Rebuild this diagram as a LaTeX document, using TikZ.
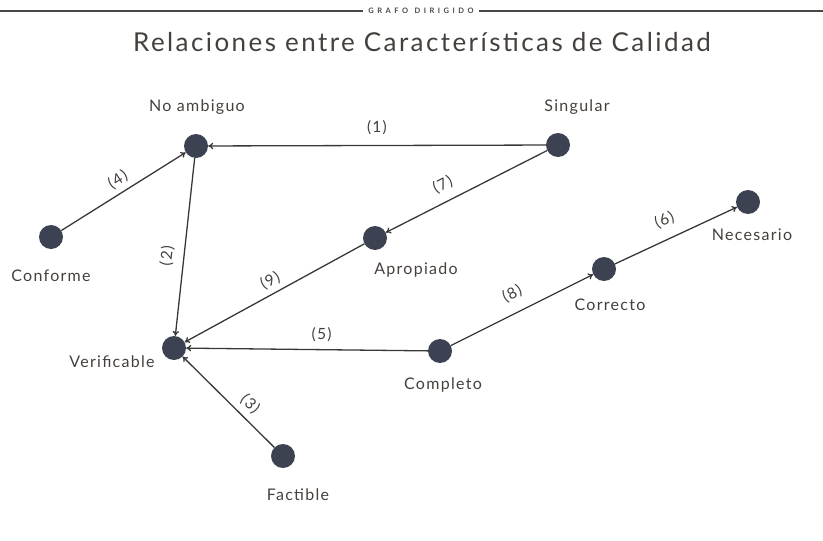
\documentclass[tikz,border=0pt]{standalone}
\usepackage{fontspec}
\setmainfont{Lato}
\newfontfamily\spacedfont[LetterSpace=8]{Lato}
\newfontfamily\titlefont[LetterSpace=9.3]{Lato}
\usetikzlibrary{arrows.meta}
\definecolor{nodecol}{HTML}{3C4251}
\definecolor{edgecol}{HTML}{383838}
\definecolor{txtcol}{HTML}{45403C}
\definecolor{rulecol}{HTML}{4A4643}
\tikzset{
  vert/.style={circle,fill=nodecol,minimum size=24pt,inner sep=0pt},
  vlab/.style={text=txtcol,font=\spacedfont\fontsize{16}{19}\selectfont,inner sep=0pt,anchor=center},
  edge/.style={draw=edgecol,line width=1.3pt,-{To[length=5pt,width=6.5pt]}},
  elab/.style={text=txtcol,font=\spacedfont\fontsize{15.5}{17}\selectfont,inner sep=0pt,sloped},
  hdrline/.style={draw=rulecol,line width=2.5pt},
}
\newcommand{\hk}{\kern3.5pt}
\begin{document}
\begin{tikzpicture}[x=1pt,y=-1pt]
\useasboundingbox (0,0) rectangle (823,541);
% header
\node[text=rulecol,font=\fontsize{7.5}{8}\selectfont\bfseries,inner sep=0pt] (hdr) at (421,11)
  {G\hk R\hk A\hk F\hk O\hk\kern3pt D\hk I\hk R\hk I\hk G\hk I\hk D\hk O};
\coordinate (hl0) at (0,11);
\coordinate (hr0) at (823,11);
\draw[hdrline] (hl0) -- ([xshift=-5pt]hdr.west |- hl0);
\draw[hdrline] ([xshift=5pt]hdr.east |- hr0) -- (hr0);
% title
\node[text=txtcol,font=\titlefont\fontsize{26}{30}\selectfont,inner sep=0pt] (title) at (422,42)
  {Relaciones entre Características de Calidad};
% vertices
\node[vert] (na) at (196,146) {};
\node[vert] (sg) at (558,145) {};
\node[vert] (cf) at (51,237) {};
\node[vert] (ap) at (375,238) {};
\node[vert] (vf) at (174,348) {};
\node[vert] (cp) at (440,351) {};
\node[vert] (cr) at (604,269) {};
\node[vert] (nc) at (748,202) {};
\node[vert] (fa) at (283,456) {};
% vertex labels
\node[vlab] (lna) at (197,107) {No ambiguo};
\node[vlab] (lsg) at (577,107) {Singular};
\node[vlab] (lcf) at (51,276) {Conforme};
\node[vlab] (lap) at (416,270) {Apropiado};
\node[vlab] (lvf) at (112,362) {Verificable};
\node[vlab] (lcp) at (443,385) {Completo};
\node[vlab] (lcr) at (610,305) {Correcto};
\node[vlab] (lnc) at (752,235) {Necesario};
\node[vlab] (lfa) at (298,495) {Factible};
% edges
\draw[edge] (sg) -- node[elab,pos=0.50,above=10pt] {(1)} (na);
\draw[edge] (na) -- node[elab,pos=0.56,above=9pt] {(2)} (vf);
\draw[edge] (fa) -- node[elab,pos=0.37,above=6pt] {(3)} (vf);
\draw[edge] (cf) -- node[elab,pos=0.51,above=5pt] {(4)} (na);
\draw[edge] (cp) -- node[elab,pos=0.44,above=7pt] {(5)} (vf);
\draw[edge] (cr) -- node[elab,pos=0.47,above=11pt] {(6)} (nc);
\draw[edge] (sg) -- node[elab,pos=0.60,above=9pt] {(7)} (ap);
\draw[edge] (cp) -- node[elab,pos=0.49,above=11pt] {(8)} (cr);
\draw[edge] (ap) -- node[elab,pos=0.49,above=5pt] {(9)} (vf);
\end{tikzpicture}
\end{document}
